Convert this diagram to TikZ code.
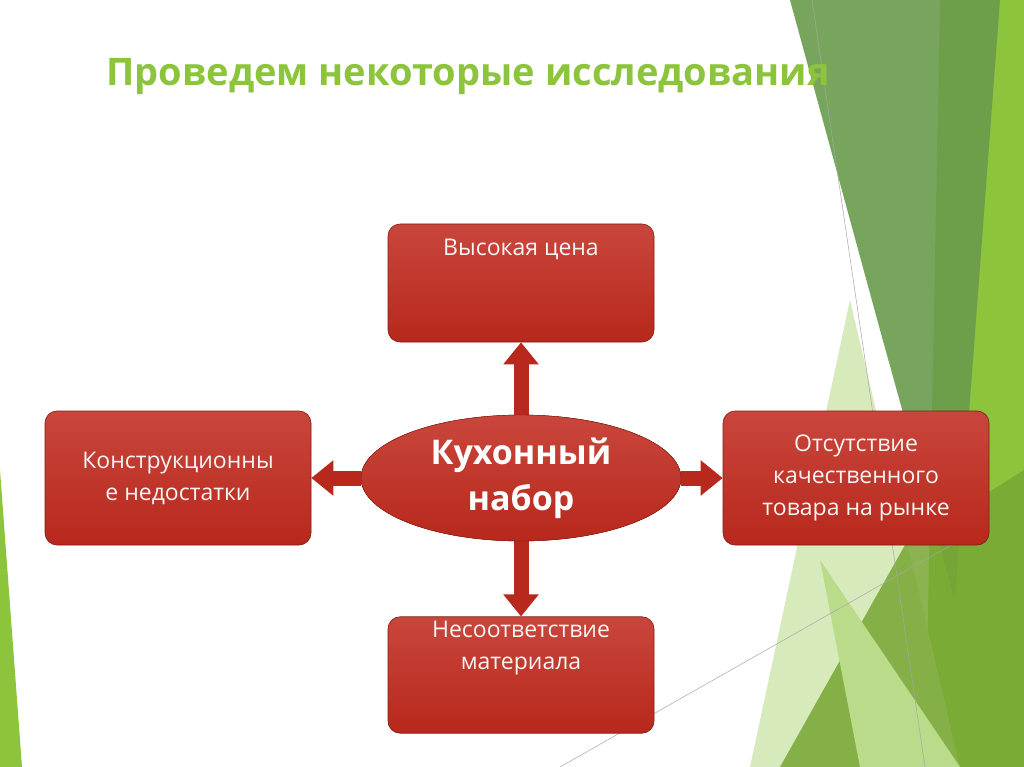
\documentclass[tikz,border=0pt]{standalone}
\usepackage{fontspec}
\setmainfont{Open Sans}
\usetikzlibrary{arrows.meta,shapes.geometric}
\definecolor{boxred}{HTML}{B8281C}
\definecolor{boxtop}{HTML}{C9463C}
\definecolor{titlegreen}{HTML}{8CC43C}
\definecolor{darkgreen}{HTML}{6A9C4C}
\tikzset{
  redbox/.style={draw=boxred!70!black,line width=0.6pt,rounded corners=12pt,top color=boxtop,bottom color=boxred,minimum width=266pt,minimum height=118pt,align=center,text=white!92!gray,font=\fontsize{23}{32}\selectfont,inner sep=4pt},
  centre/.style={ellipse,draw=boxred!70!black,top color=boxtop,bottom color=boxred,minimum width=320pt,minimum height=126pt,text=white,align=center,font=\bfseries\fontsize{34}{46}\selectfont,inner sep=0pt},
  bigarrow/.style={draw=boxred,line width=15pt,-{Triangle[width=34pt,length=22pt]}}
}
\begin{document}
\begin{tikzpicture}[x=1pt,y=-1pt]
\useasboundingbox (0,0) rectangle (1024,767);
\fill[white] (0,0) rectangle (1024,767);
% decorations
\fill[titlegreen] (940,0) -- (1024,0) -- (1024,767) -- (925,767) -- cycle;
\fill[darkgreen,opacity=0.9] (790,0) -- (1000,0) -- (955,600) -- (880,330) -- cycle;
\fill[titlegreen!35] (850,300) -- (960,767) -- (750,767) -- cycle;
\fill[titlegreen!85!black,opacity=0.85] (905,545) -- (1024,470) -- (1024,767) -- (780,767) -- cycle;
\fill[titlegreen!60] (820,560) -- (960,767) -- (860,767) -- cycle;
\fill[titlegreen] (0,470) -- (22,767) -- (0,767) -- cycle;
\draw[gray!70,line width=0.5pt] (812,0) -- (925,767);
\draw[gray!70,line width=0.5pt] (560,767) -- (960,540);
% title
\node[anchor=west,text=titlegreen,font=\bfseries\fontsize{38}{44}\selectfont] (title) at (103,77) {Проведем некоторые исследования};
% nodes
\node[centre] (c) at (521,478) {Кухонный\\набор};
\node[redbox] (t) at (521,283) {Высокая цена\\[40pt]};
\node[redbox,minimum height=134pt] (l) at (178,478) {Конструкционны\\е недостатки};
\node[redbox,minimum height=134pt] (r) at (856,478) {Отсутствие\\качественного\\товара на рынке};
\node[redbox,minimum height=116pt] (b) at (521,675) {Несоответствие\\материала\\[28pt]};
% arrows
\draw[bigarrow] (c.north) -- (t.south);
\draw[bigarrow] (c.south) -- (b.north);
\draw[bigarrow] (c.west) -- (l.east);
\draw[bigarrow] (c.east) -- (r.west);
\node[centre] at (c) {Кухонный\\набор};
\end{tikzpicture}
\end{document}
